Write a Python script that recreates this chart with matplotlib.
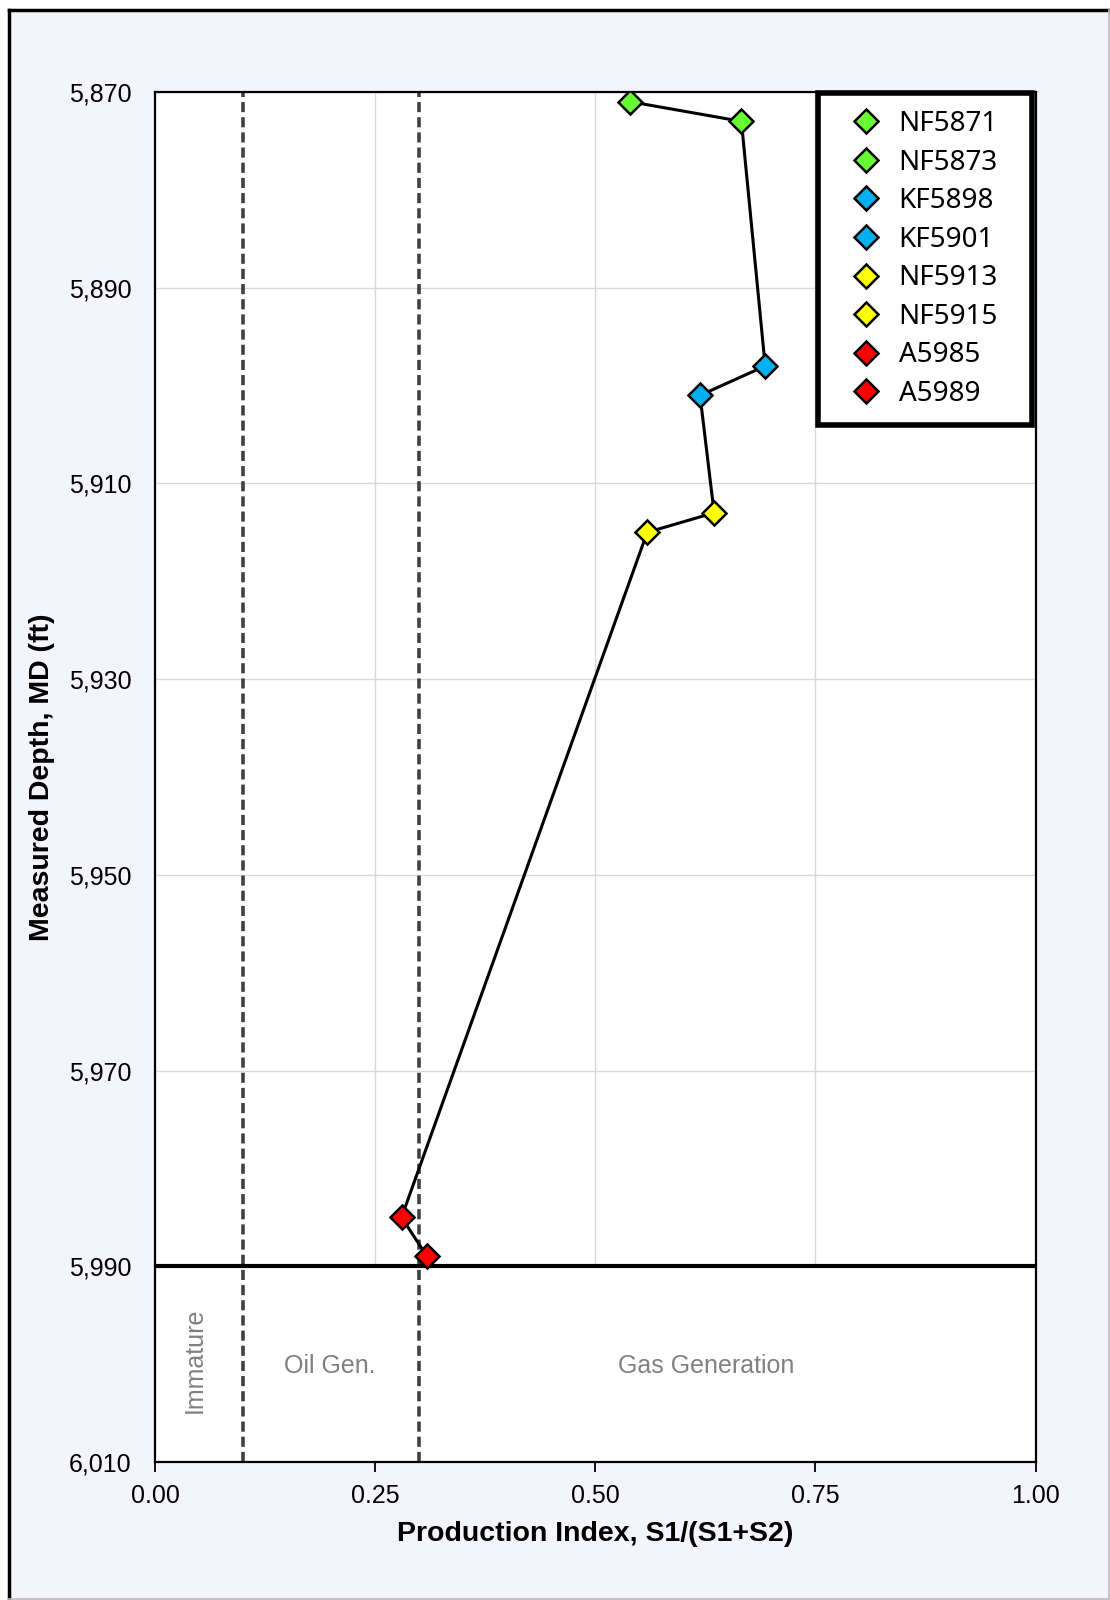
import matplotlib.pyplot as plt
from matplotlib.patches import Rectangle
from matplotlib.lines import Line2D
from matplotlib.ticker import FuncFormatter

# sample data
samples = ['NF5871', 'NF5873', 'KF5898', 'KF5901', 'NF5913', 'NF5915', 'A5985', 'A5989']
prod_index = [0.540, 0.666, 0.693, 0.619, 0.635, 0.559, 0.280, 0.309]
depth = [5871, 5873, 5898, 5901, 5913, 5915, 5985, 5989]
colors = ['#66FF33', '#66FF33', '#00B0F0', '#00B0F0', '#FFFF00', '#FFFF00', '#FF0000', '#FF0000']

zone_bounds = [0.1, 0.3]
zone_labels = ['Immature', 'Oil Gen.', 'Gas Generation']
zone_x = [0.045, 0.199, 0.626]
x_ticks = [0.0, 0.25, 0.5, 0.75, 1.0]
y_ticks = [5870, 5890, 5910, 5930, 5950, 5970, 5990, 6010]
base_depth = 5990

plt.rcParams['font.family'] = ['Liberation Sans', 'DejaVu Sans']

fig = plt.figure(figsize=(11.1, 16), dpi=100)
fig.patch.set_facecolor('white')

# lavender page with frame
fig.patches.append(Rectangle((8 / 1110, 0), 1 - 8 / 1110, 1 - 10 / 1600, transform=fig.transFigure,
                             facecolor='#F4F4FD', edgecolor='none', zorder=-5))
fig.add_artist(Line2D([8.5 / 1110, 8.5 / 1110], [0, 1 - 10 / 1600], color='black', lw=2.5,
                      transform=fig.transFigure))
fig.add_artist(Line2D([8.5 / 1110, 1], [1 - 10 / 1600, 1 - 10 / 1600], color='black', lw=2.5,
                      transform=fig.transFigure))
fig.add_artist(Line2D([1108.5 / 1110, 1108.5 / 1110], [0, 1 - 10 / 1600], color='#BBBBBB', lw=1.2,
                      transform=fig.transFigure))
fig.add_artist(Line2D([8 / 1110, 1], [1.5 / 1600, 1.5 / 1600], color='#BBBBBB', lw=1.2,
                      transform=fig.transFigure))

ax = fig.add_axes([155 / 1110, 1 - 1462 / 1600, 880.5 / 1110, 1370 / 1600])
ax.set_zorder(1)
ax.set_facecolor('white')

ax.set_xlim(0, 1)
ax.set_ylim(6010, 5870)
ax.set_xticks(x_ticks)
ax.set_yticks(y_ticks)
ax.xaxis.set_major_formatter(FuncFormatter(lambda v, p: '%.2f' % v))
ax.yaxis.set_major_formatter(FuncFormatter(lambda v, p: '{:,.0f}'.format(v)))
ax.tick_params(axis='x', direction='out', length=7, width=1.3, pad=9, labelsize=18)
ax.tick_params(axis='y', length=0, pad=17, labelsize=18)

ax.set_axisbelow(True)
ax.grid(True, color='#D9D9D9', lw=1.0)
# below the base line there is no grid
ax.axhspan(base_depth, 6010, facecolor='white', edgecolor='none', zorder=0.8)

for s in ax.spines.values():
    s.set_linewidth(1.6)
    s.set_color('black')

for b in zone_bounds:
    ax.axvline(b, color='#404040', lw=2.6, dashes=(2.8, 1.4), zorder=2)
ax.axhline(base_depth, color='black', lw=3, zorder=2.5)

ax.text(zone_x[0], 5999.6, zone_labels[0], rotation=90, ha='center', va='center', color='#808080', fontsize=18)
ax.text(zone_x[1], 6000.2, zone_labels[1], ha='center', va='center', color='#808080', fontsize=18)
ax.text(zone_x[2], 6000.2, zone_labels[2], ha='center', va='center', color='#808080', fontsize=18)

ax.plot(prod_index, depth, color='black', lw=2.2, zorder=3)
for i in range(len(samples)):
    ax.plot(prod_index[i], depth[i], linestyle='none', marker='D', markersize=12.5,
            markerfacecolor=colors[i], markeredgecolor='black', markeredgewidth=1.8,
            label=samples[i], zorder=4)

leg = ax.legend(loc='upper left', bbox_to_anchor=(0.753, 0.0, 0.243, 0.999), mode='expand',
                borderaxespad=0, prop={'family': 'Noto Sans', 'size': 20}, frameon=True,
                fancybox=False, borderpad=0.6, labelspacing=0.38, handlelength=2.25,
                handletextpad=0.05, markerscale=1.0)
leg.get_frame().set_edgecolor('black')
leg.get_frame().set_linewidth(4)
leg.get_frame().set_alpha(1)
leg.set_zorder(10)

ax.set_xlabel('Production Index, S1/(S1+S2)', fontsize=20.5, fontweight='bold', labelpad=9)
ax.set_ylabel('Measured Depth, MD (ft)', fontsize=20.5, fontweight='bold', labelpad=10)

fig.savefig('out.png', dpi=100)
